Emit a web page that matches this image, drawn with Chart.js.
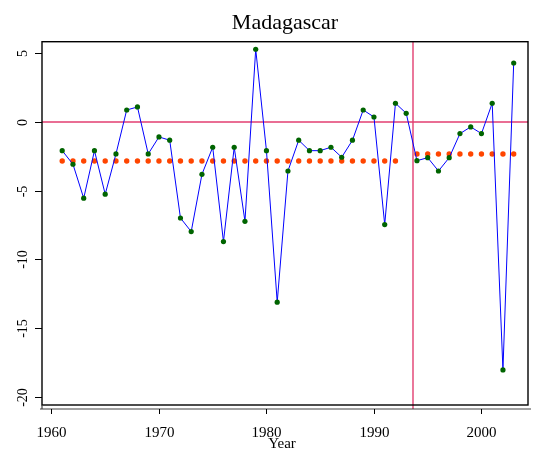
<!DOCTYPE html>
<html>
<head>
<meta charset="utf-8">
<script src="https://cdn.jsdelivr.net/npm/chart.js@4/dist/chart.umd.min.js"></script>
<style>body{margin:0;background:#fff}</style>
</head>
<body>
<canvas id="grafico" width="534" height="450"></canvas>
<script>
let anos = [1961, 1962, 1963, 1964, 1965, 1966, 1967, 1968, 1969, 1970,
            1971, 1972, 1973, 1974, 1975, 1976, 1977, 1978, 1979, 1980,
            1981, 1982, 1983, 1984, 1985, 1986, 1987, 1988, 1989, 1990,
            1991, 1992, 1993, 1994, 1995, 1996, 1997, 1998, 1999, 2000,
            2001, 2002, 2003];
let valores = [-2.09, -3.08, -5.55, -2.09, -5.26, -2.33, 0.87, 1.09, -2.33, -1.09,
               -1.33, -6.99, -7.98, -3.81, -1.84, -8.71, -1.84, -7.23, 5.29, -2.09,
               -13.12, -3.57, -1.33, -2.09, -2.09, -1.84, -2.57, -1.33, 0.87, 0.36,
               -7.47, 1.36, 0.63, -2.82, -2.6, -3.57, -2.6, -0.85, -0.36, -0.85,
               1.36, -18.05, 4.29];
let anoQuebra = 1993.6;
let mediaAntes = -2.84;
let mediaDepois = -2.33;
let ticksX = [1960, 1970, 1980, 1990, 2000];
let ticksY = [5, 0, -5, -10, -15, -20];

const serif = "'Liberation Serif', 'DejaVu Serif', serif";
const vermelho = "rgb(226,62,112)";

// linhas de referencia, moldura e eixos desenhados pelas escalas
const eixos = {
  id: "eixos",
  beforeDatasetsDraw(chart) {
    const { ctx, chartArea: a, scales: { x, y } } = chart;
    ctx.save();
    ctx.strokeStyle = vermelho;
    ctx.lineWidth = 1.4;
    const y0 = Math.round(y.getPixelForValue(0));
    ctx.beginPath(); ctx.moveTo(a.left, y0); ctx.lineTo(a.right, y0); ctx.stroke();
    const xq = Math.round(x.getPixelForValue(anoQuebra));
    ctx.beginPath(); ctx.moveTo(xq, a.top); ctx.lineTo(xq, a.bottom + 4); ctx.stroke();
    ctx.restore();
  },
  afterDraw(chart) {
    const { ctx, chartArea: a, scales: { x, y } } = chart;
    ctx.save();
    ctx.strokeStyle = "#000";
    ctx.lineWidth = 1.4;
    ctx.strokeRect(a.left, a.top, a.right - a.left, a.bottom - a.top);

    // eixo x separado abaixo da area
    const ex = a.bottom + 4;
    ctx.strokeStyle = "#444";
    ctx.lineWidth = 1.2;
    ctx.beginPath(); ctx.moveTo(a.left - 2, ex); ctx.lineTo(a.right + 3, ex); ctx.stroke();
    ctx.beginPath(); ctx.moveTo(a.left, a.bottom); ctx.lineTo(a.left, ex); ctx.stroke();

    ctx.fillStyle = "#000";
    ctx.font = "15px " + serif;
    ctx.textAlign = "center";
    ctx.textBaseline = "alphabetic";
    ctx.strokeStyle = "#000";
    ctx.lineWidth = 1;
    ticksX.forEach(t => {
      const px = Math.round(x.getPixelForValue(t)) + 0.5;
      ctx.beginPath(); ctx.moveTo(px, ex); ctx.lineTo(px, ex + 5); ctx.stroke();
      ctx.fillText(String(t), px, ex + 28);
    });
    ctx.fillText("Year", (a.left + a.right) / 2 - 3, 448);

    ctx.font = "14px " + serif;
    ticksY.forEach(t => {
      const py = Math.round(y.getPixelForValue(t)) + 0.5;
      ctx.beginPath(); ctx.moveTo(a.left - 7, py); ctx.lineTo(a.left, py); ctx.stroke();
      ctx.save();
      ctx.translate(27, py);
      ctx.rotate(-Math.PI / 2);
      ctx.fillText(String(t), 0, 0);
      ctx.restore();
    });
    ctx.restore();
  }
};

new Chart(document.getElementById("grafico"), {
  type: "line",
  data: {
    datasets: [
      {
        label: "media antes",
        data: anos.filter(a => a < anoQuebra - 1).map(a => ({ x: a, y: mediaAntes })),
        showLine: false,
        pointRadius: 2.7,
        pointBorderWidth: 0,
        pointBackgroundColor: "#ff4500",
        order: 3
      },
      {
        label: "media depois",
        data: anos.filter(a => a > anoQuebra).map(a => ({ x: a, y: mediaDepois })),
        showLine: false,
        pointRadius: 2.7,
        pointBorderWidth: 0,
        pointBackgroundColor: "#ff4500",
        order: 2
      },
      {
        label: "Madagascar",
        data: anos.map((a, i) => ({ x: a, y: valores[i] })),
        borderColor: "#0000ff",
        borderWidth: 1,
        pointRadius: 2.6,
        pointBorderWidth: 0,
        pointBackgroundColor: "#006400",
        tension: 0,
        order: 1
      }
    ]
  },
  options: {
    responsive: false,
    animation: false,
    devicePixelRatio: 1,
    layout: { padding: { left: 42, right: 6, top: 6, bottom: 45 } },
    scales: {
      x: { type: "linear", min: 1959.12, max: 2004.33, display: false },
      y: { type: "linear", min: -20.6, max: 5.84, display: false }
    },
    plugins: {
      legend: { display: false },
      tooltip: { enabled: false },
      title: {
        display: true,
        text: "Madagascar",
        color: "#000",
        font: { family: serif, size: 22, weight: "normal" },
        padding: { top: 4, bottom: 5.3 }
      }
    }
  },
  plugins: [eixos]
});
</script>
</body>
</html>
